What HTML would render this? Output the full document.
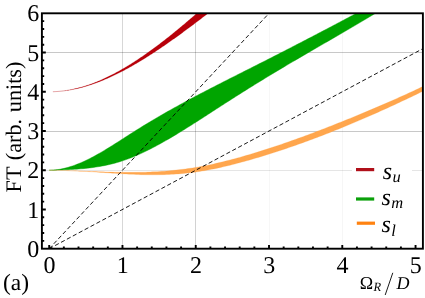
<!DOCTYPE html>
<html><head><meta charset="utf-8"><title>plot</title>
<style>html,body{margin:0;padding:0;background:#fff;}body{width:425px;height:298px;overflow:hidden;font-family:"Liberation Serif",serif;}svg{display:block;will-change:transform;}svg text{text-rendering:geometricPrecision;}svg text{font-family:"Liberation Serif",serif;fill:#000;}</style>
</head><body>
<svg width="425" height="298" viewBox="0 0 425 298">
<rect x="0" y="0" width="425" height="298" fill="#ffffff"/>
<defs><clipPath id="c"><rect x="41.90" y="13.30" width="381.00" height="235.40"/></clipPath></defs>
<line x1="122.50" y1="13.30" x2="122.50" y2="248.70" stroke="#000" stroke-opacity="0.155" stroke-width="1"/>
<line x1="195.50" y1="13.30" x2="195.50" y2="248.70" stroke="#000" stroke-opacity="0.175" stroke-width="1"/>
<line x1="269.50" y1="13.30" x2="269.50" y2="248.70" stroke="#000" stroke-opacity="0.03" stroke-width="1"/>
<line x1="342.50" y1="13.30" x2="342.50" y2="248.70" stroke="#000" stroke-opacity="0.035" stroke-width="1"/>
<line x1="41.90" y1="170.50" x2="422.90" y2="170.50" stroke="#000" stroke-opacity="0.10" stroke-width="1"/>
<line x1="41.90" y1="131.50" x2="422.90" y2="131.50" stroke="#000" stroke-opacity="0.215" stroke-width="1"/>
<line x1="41.90" y1="52.50" x2="422.90" y2="52.50" stroke="#000" stroke-opacity="0.215" stroke-width="1"/>
<g clip-path="url(#c)">
<path d="M52.86,91.72 L53.90,91.68 L54.94,91.63 L55.97,91.57 L57.01,91.50 L58.05,91.42 L59.08,91.33 L60.12,91.24 L61.16,91.13 L62.20,91.01 L63.23,90.88 L64.27,90.75 L65.31,90.60 L66.34,90.45 L67.38,90.28 L68.42,90.10 L69.45,89.92 L70.49,89.73 L71.53,89.52 L72.56,89.31 L73.60,89.09 L74.64,88.86 L75.67,88.62 L76.71,88.37 L77.75,88.11 L78.78,87.84 L79.82,87.56 L80.86,87.28 L81.90,86.98 L82.93,86.68 L83.97,86.37 L85.01,86.04 L86.04,85.71 L87.08,85.37 L88.12,85.03 L89.15,84.67 L90.19,84.31 L91.23,83.93 L92.26,83.55 L93.30,83.16 L94.34,82.76 L95.37,82.36 L96.41,81.94 L97.45,81.52 L98.48,81.09 L99.52,80.65 L100.56,80.20 L101.59,79.75 L102.63,79.29 L103.67,78.82 L104.71,78.34 L105.74,77.86 L106.78,77.36 L107.82,76.86 L108.85,76.36 L109.89,75.84 L110.93,75.32 L111.96,74.79 L113.00,74.25 L114.04,73.71 L115.07,73.16 L116.11,72.60 L117.15,72.04 L118.18,71.47 L119.22,70.89 L120.26,70.31 L121.29,69.72 L122.33,69.12 L123.37,68.52 L124.41,67.91 L125.44,67.30 L126.48,66.67 L127.52,66.05 L128.55,65.41 L129.59,64.77 L130.63,64.13 L131.66,63.47 L132.70,62.82 L133.74,62.15 L134.77,61.48 L135.81,60.81 L136.85,60.13 L137.88,59.44 L138.92,58.75 L139.96,58.06 L140.99,57.35 L142.03,56.65 L143.07,55.94 L144.11,55.22 L145.14,54.50 L146.18,53.77 L147.22,53.04 L148.25,52.30 L149.29,51.56 L150.33,50.81 L151.36,50.06 L152.40,49.31 L153.44,48.54 L154.47,47.78 L155.51,47.01 L156.55,46.24 L157.58,45.46 L158.62,44.68 L159.66,43.89 L160.69,43.10 L161.73,42.31 L162.77,41.51 L163.81,40.70 L164.84,39.90 L165.88,39.09 L166.92,38.27 L167.95,37.45 L168.99,36.63 L170.03,35.80 L171.06,34.97 L172.10,34.14 L173.14,33.30 L174.17,32.46 L175.21,31.62 L176.25,30.77 L177.28,29.92 L178.32,29.07 L179.36,28.21 L180.39,27.35 L181.43,26.49 L182.47,25.62 L183.51,24.75 L184.54,23.88 L185.58,23.00 L186.62,22.12 L187.65,21.24 L188.69,20.35 L189.73,19.47 L190.76,18.58 L191.80,17.68 L192.84,16.79 L193.87,15.89 L194.91,14.98 L195.95,14.08 L196.98,13.17 L198.02,12.26 L199.06,11.35 L200.09,10.44 L201.13,9.52 L202.17,8.60 L203.21,7.68 L204.24,6.75 L205.28,5.83 L206.32,4.90 L207.35,3.97 L208.39,3.03 L209.43,2.10 L210.46,1.16 L211.50,0.22 L212.54,-0.72 L213.57,-1.67 L214.61,-2.61 L215.65,-3.56 L216.68,-4.51 L217.72,-5.47 L217.72,5.74 L216.68,6.56 L215.65,7.37 L214.61,8.18 L213.57,8.99 L212.54,9.80 L211.50,10.61 L210.46,11.42 L209.43,12.23 L208.39,13.03 L207.35,13.84 L206.32,14.64 L205.28,15.44 L204.24,16.24 L203.21,17.04 L202.17,17.83 L201.13,18.63 L200.09,19.42 L199.06,20.21 L198.02,21.00 L196.98,21.79 L195.95,22.58 L194.91,23.36 L193.87,24.15 L192.84,24.93 L191.80,25.71 L190.76,26.48 L189.73,27.26 L188.69,28.03 L187.65,28.80 L186.62,29.57 L185.58,30.34 L184.54,31.11 L183.51,31.87 L182.47,32.63 L181.43,33.39 L180.39,34.14 L179.36,34.90 L178.32,35.65 L177.28,36.40 L176.25,37.14 L175.21,37.89 L174.17,38.63 L173.14,39.37 L172.10,40.10 L171.06,40.84 L170.03,41.57 L168.99,42.29 L167.95,43.02 L166.92,43.74 L165.88,44.46 L164.84,45.17 L163.81,45.89 L162.77,46.60 L161.73,47.30 L160.69,48.01 L159.66,48.71 L158.62,49.40 L157.58,50.09 L156.55,50.78 L155.51,51.47 L154.47,52.15 L153.44,52.83 L152.40,53.51 L151.36,54.18 L150.33,54.85 L149.29,55.51 L148.25,56.17 L147.22,56.83 L146.18,57.48 L145.14,58.13 L144.11,58.77 L143.07,59.41 L142.03,60.05 L140.99,60.68 L139.96,61.31 L138.92,61.93 L137.88,62.55 L136.85,63.16 L135.81,63.77 L134.77,64.37 L133.74,64.97 L132.70,65.57 L131.66,66.16 L130.63,66.74 L129.59,67.32 L128.55,67.90 L127.52,68.47 L126.48,69.03 L125.44,69.59 L124.41,70.14 L123.37,70.69 L122.33,71.23 L121.29,71.77 L120.26,72.30 L119.22,72.83 L118.18,73.35 L117.15,73.86 L116.11,74.37 L115.07,74.87 L114.04,75.37 L113.00,75.86 L111.96,76.35 L110.93,76.82 L109.89,77.29 L108.85,77.76 L107.82,78.22 L106.78,78.67 L105.74,79.12 L104.71,79.56 L103.67,79.99 L102.63,80.41 L101.59,80.83 L100.56,81.24 L99.52,81.65 L98.48,82.05 L97.45,82.44 L96.41,82.82 L95.37,83.20 L94.34,83.57 L93.30,83.93 L92.26,84.28 L91.23,84.63 L90.19,84.97 L89.15,85.30 L88.12,85.62 L87.08,85.94 L86.04,86.25 L85.01,86.55 L83.97,86.84 L82.93,87.13 L81.90,87.40 L80.86,87.67 L79.82,87.93 L78.78,88.19 L77.75,88.43 L76.71,88.67 L75.67,88.89 L74.64,89.11 L73.60,89.32 L72.56,89.53 L71.53,89.72 L70.49,89.91 L69.45,90.08 L68.42,90.25 L67.38,90.41 L66.34,90.56 L65.31,90.70 L64.27,90.84 L63.23,90.96 L62.20,91.08 L61.16,91.19 L60.12,91.28 L59.08,91.37 L58.05,91.45 L57.01,91.53 L55.97,91.59 L54.94,91.64 L53.90,91.69 L52.86,91.72 Z" fill="#b8000a" stroke="#b8000a" stroke-width="0.2" stroke-linejoin="round"/>
<path d="M49.20,170.24 L51.32,170.18 L53.44,170.05 L55.56,169.85 L57.68,169.58 L59.80,169.24 L61.92,168.84 L64.04,168.37 L66.16,167.84 L68.28,167.26 L70.40,166.62 L72.52,165.92 L74.64,165.17 L76.76,164.37 L78.88,163.53 L81.00,162.63 L83.12,161.70 L85.24,160.72 L87.36,159.70 L89.48,158.65 L91.60,157.56 L93.71,156.44 L95.83,155.28 L97.95,154.10 L100.07,152.89 L102.19,151.65 L104.31,150.40 L106.43,149.12 L108.55,147.83 L110.67,146.51 L112.79,145.19 L114.91,143.85 L117.03,142.51 L119.15,141.15 L121.27,139.79 L123.39,138.43 L125.51,137.07 L127.63,135.70 L129.75,134.34 L131.87,132.99 L133.99,131.64 L136.11,130.30 L138.23,128.97 L140.35,127.66 L142.47,126.35 L144.59,125.05 L146.71,123.76 L148.83,122.49 L150.95,121.22 L153.07,119.96 L155.19,118.71 L157.31,117.46 L159.43,116.23 L161.55,115.00 L163.67,113.78 L165.79,112.57 L167.91,111.37 L170.03,110.18 L172.15,108.99 L174.27,107.81 L176.39,106.63 L178.51,105.46 L180.63,104.30 L182.74,103.15 L184.86,102.00 L186.98,100.85 L189.10,99.71 L191.22,98.58 L193.34,97.45 L195.46,96.33 L197.58,95.21 L199.70,94.10 L201.82,92.99 L203.94,91.88 L206.06,90.78 L208.18,89.68 L210.30,88.59 L212.42,87.49 L214.54,86.40 L216.66,85.32 L218.78,84.24 L220.90,83.15 L223.02,82.08 L225.14,81.00 L227.26,79.92 L229.38,78.85 L231.50,77.78 L233.62,76.71 L235.74,75.64 L237.86,74.57 L239.98,73.50 L242.10,72.43 L244.22,71.36 L246.34,70.30 L248.46,69.23 L250.58,68.16 L252.70,67.09 L254.82,66.02 L256.94,64.95 L259.06,63.87 L261.18,62.80 L263.30,61.72 L265.42,60.65 L267.54,59.57 L269.66,58.49 L271.77,57.41 L273.89,56.33 L276.01,55.25 L278.13,54.16 L280.25,53.08 L282.37,51.99 L284.49,50.90 L286.61,49.82 L288.73,48.73 L290.85,47.63 L292.97,46.54 L295.09,45.45 L297.21,44.35 L299.33,43.26 L301.45,42.16 L303.57,41.06 L305.69,39.96 L307.81,38.86 L309.93,37.76 L312.05,36.65 L314.17,35.55 L316.29,34.44 L318.41,33.33 L320.53,32.22 L322.65,31.11 L324.77,30.00 L326.89,28.89 L329.01,27.77 L331.13,26.66 L333.25,25.54 L335.37,24.42 L337.49,23.30 L339.61,22.18 L341.73,21.05 L343.85,19.93 L345.97,18.80 L348.09,17.67 L350.21,16.55 L352.33,15.41 L354.45,14.28 L356.57,13.15 L358.69,12.01 L360.80,10.88 L362.92,9.74 L365.04,8.60 L367.16,7.46 L369.28,6.32 L371.40,5.17 L373.52,4.03 L375.64,2.88 L377.76,1.73 L379.88,0.58 L382.00,-0.57 L384.12,-1.72 L386.24,-2.88 L386.24,6.73 L384.12,8.04 L382.00,9.34 L379.88,10.63 L377.76,11.92 L375.64,13.21 L373.52,14.49 L371.40,15.76 L369.28,17.04 L367.16,18.30 L365.04,19.57 L362.92,20.83 L360.80,22.09 L358.69,23.34 L356.57,24.59 L354.45,25.84 L352.33,27.09 L350.21,28.33 L348.09,29.57 L345.97,30.81 L343.85,32.05 L341.73,33.28 L339.61,34.52 L337.49,35.75 L335.37,36.98 L333.25,38.21 L331.13,39.44 L329.01,40.67 L326.89,41.89 L324.77,43.12 L322.65,44.35 L320.53,45.58 L318.41,46.81 L316.29,48.03 L314.17,49.26 L312.05,50.49 L309.93,51.72 L307.81,52.95 L305.69,54.19 L303.57,55.42 L301.45,56.66 L299.33,57.90 L297.21,59.14 L295.09,60.38 L292.97,61.62 L290.85,62.87 L288.73,64.12 L286.61,65.37 L284.49,66.63 L282.37,67.89 L280.25,69.15 L278.13,70.42 L276.01,71.69 L273.89,72.97 L271.77,74.24 L269.66,75.53 L267.54,76.81 L265.42,78.10 L263.30,79.39 L261.18,80.69 L259.06,81.99 L256.94,83.30 L254.82,84.61 L252.70,85.92 L250.58,87.24 L248.46,88.56 L246.34,89.88 L244.22,91.21 L242.10,92.54 L239.98,93.88 L237.86,95.22 L235.74,96.57 L233.62,97.92 L231.50,99.27 L229.38,100.63 L227.26,101.99 L225.14,103.36 L223.02,104.72 L220.90,106.09 L218.78,107.47 L216.66,108.84 L214.54,110.22 L212.42,111.59 L210.30,112.97 L208.18,114.34 L206.06,115.71 L203.94,117.08 L201.82,118.44 L199.70,119.81 L197.58,121.16 L195.46,122.52 L193.34,123.86 L191.22,125.21 L189.10,126.54 L186.98,127.87 L184.86,129.19 L182.74,130.50 L180.63,131.80 L178.51,133.10 L176.39,134.38 L174.27,135.65 L172.15,136.91 L170.03,138.16 L167.91,139.40 L165.79,140.62 L163.67,141.82 L161.55,143.02 L159.43,144.19 L157.31,145.35 L155.19,146.49 L153.07,147.61 L150.95,148.70 L148.83,149.78 L146.71,150.83 L144.59,151.86 L142.47,152.86 L140.35,153.84 L138.23,154.79 L136.11,155.71 L133.99,156.60 L131.87,157.47 L129.75,158.30 L127.63,159.09 L125.51,159.86 L123.39,160.59 L121.27,161.28 L119.15,161.94 L117.03,162.56 L114.91,163.15 L112.79,163.71 L110.67,164.23 L108.55,164.73 L106.43,165.19 L104.31,165.63 L102.19,166.04 L100.07,166.42 L97.95,166.78 L95.83,167.11 L93.71,167.42 L91.60,167.71 L89.48,167.97 L87.36,168.22 L85.24,168.44 L83.12,168.65 L81.00,168.84 L78.88,169.01 L76.76,169.17 L74.64,169.32 L72.52,169.45 L70.40,169.57 L68.28,169.68 L66.16,169.78 L64.04,169.87 L61.92,169.95 L59.80,170.02 L57.68,170.08 L55.56,170.14 L53.44,170.18 L51.32,170.22 L49.20,170.24 Z" fill="#00a500" stroke="#00a500" stroke-width="0.4" stroke-linejoin="round"/>
<path d="M49.20,170.24 L51.55,170.26 L53.90,170.29 L56.25,170.33 L58.60,170.37 L60.95,170.42 L63.30,170.48 L65.65,170.54 L68.00,170.61 L70.35,170.68 L72.70,170.75 L75.05,170.83 L77.40,170.91 L79.75,171.00 L82.10,171.08 L84.45,171.17 L86.80,171.26 L89.15,171.35 L91.50,171.43 L93.85,171.52 L96.20,171.61 L98.55,171.69 L100.90,171.77 L103.25,171.85 L105.60,171.92 L107.95,172.00 L110.30,172.06 L112.65,172.12 L115.00,172.18 L117.35,172.23 L119.71,172.27 L122.06,172.30 L124.41,172.33 L126.76,172.35 L129.11,172.36 L131.46,172.36 L133.81,172.35 L136.16,172.33 L138.51,172.30 L140.86,172.26 L143.21,172.21 L145.56,172.14 L147.91,172.07 L150.26,171.98 L152.61,171.87 L154.96,171.76 L157.31,171.63 L159.66,171.48 L162.01,171.33 L164.36,171.16 L166.71,170.97 L169.06,170.77 L171.41,170.55 L173.76,170.32 L176.11,170.08 L178.46,169.82 L180.81,169.54 L183.16,169.25 L185.51,168.94 L187.86,168.61 L190.21,168.27 L192.56,167.91 L194.91,167.53 L197.26,167.13 L199.61,166.72 L201.96,166.29 L204.31,165.84 L206.66,165.38 L209.01,164.90 L211.36,164.40 L213.71,163.89 L216.06,163.36 L218.41,162.83 L220.76,162.27 L223.11,161.71 L225.46,161.12 L227.81,160.53 L230.16,159.93 L232.51,159.31 L234.86,158.68 L237.21,158.04 L239.56,157.39 L241.91,156.73 L244.26,156.05 L246.61,155.37 L248.96,154.68 L251.31,153.98 L253.66,153.27 L256.01,152.56 L258.37,151.83 L260.72,151.10 L263.07,150.36 L265.42,149.61 L267.77,148.85 L270.12,148.08 L272.47,147.31 L274.82,146.53 L277.17,145.74 L279.52,144.95 L281.87,144.15 L284.22,143.34 L286.57,142.52 L288.92,141.70 L291.27,140.87 L293.62,140.03 L295.97,139.19 L298.32,138.34 L300.67,137.49 L303.02,136.63 L305.37,135.76 L307.72,134.89 L310.07,134.01 L312.42,133.13 L314.77,132.24 L317.12,131.35 L319.47,130.45 L321.82,129.55 L324.17,128.64 L326.52,127.73 L328.87,126.81 L331.22,125.89 L333.57,124.97 L335.92,124.04 L338.27,123.10 L340.62,122.17 L342.97,121.22 L345.32,120.28 L347.67,119.33 L350.02,118.38 L352.37,117.42 L354.72,116.46 L357.07,115.50 L359.42,114.53 L361.77,113.55 L364.12,112.58 L366.47,111.59 L368.82,110.61 L371.17,109.61 L373.52,108.62 L375.87,107.62 L378.22,106.61 L380.57,105.60 L382.92,104.59 L385.27,103.57 L387.62,102.54 L389.97,101.51 L392.32,100.48 L394.67,99.43 L397.03,98.39 L399.38,97.34 L401.73,96.28 L404.08,95.22 L406.43,94.15 L408.78,93.08 L411.13,92.00 L413.48,90.91 L415.83,89.82 L418.18,88.72 L420.53,87.62 L422.88,86.51 L422.88,91.22 L420.53,92.36 L418.18,93.50 L415.83,94.64 L413.48,95.77 L411.13,96.90 L408.78,98.02 L406.43,99.14 L404.08,100.25 L401.73,101.36 L399.38,102.46 L397.03,103.56 L394.67,104.65 L392.32,105.73 L389.97,106.82 L387.62,107.89 L385.27,108.96 L382.92,110.03 L380.57,111.09 L378.22,112.14 L375.87,113.19 L373.52,114.23 L371.17,115.27 L368.82,116.30 L366.47,117.32 L364.12,118.34 L361.77,119.36 L359.42,120.36 L357.07,121.36 L354.72,122.36 L352.37,123.35 L350.02,124.33 L347.67,125.31 L345.32,126.28 L342.97,127.24 L340.62,128.20 L338.27,129.15 L335.92,130.10 L333.57,131.04 L331.22,131.97 L328.87,132.90 L326.52,133.82 L324.17,134.73 L321.82,135.63 L319.47,136.53 L317.12,137.43 L314.77,138.31 L312.42,139.19 L310.07,140.06 L307.72,140.93 L305.37,141.78 L303.02,142.63 L300.67,143.48 L298.32,144.31 L295.97,145.14 L293.62,145.96 L291.27,146.78 L288.92,147.59 L286.57,148.39 L284.22,149.18 L281.87,149.96 L279.52,150.74 L277.17,151.51 L274.82,152.27 L272.47,153.02 L270.12,153.77 L267.77,154.51 L265.42,155.24 L263.07,155.96 L260.72,156.68 L258.37,157.38 L256.01,158.08 L253.66,158.77 L251.31,159.46 L248.96,160.13 L246.61,160.80 L244.26,161.45 L241.91,162.10 L239.56,162.74 L237.21,163.36 L234.86,163.98 L232.51,164.58 L230.16,165.17 L227.81,165.75 L225.46,166.31 L223.11,166.86 L220.76,167.40 L218.41,167.92 L216.06,168.42 L213.71,168.91 L211.36,169.37 L209.01,169.83 L206.66,170.26 L204.31,170.67 L201.96,171.07 L199.61,171.44 L197.26,171.80 L194.91,172.13 L192.56,172.44 L190.21,172.73 L187.86,173.00 L185.51,173.25 L183.16,173.48 L180.81,173.69 L178.46,173.88 L176.11,174.05 L173.76,174.20 L171.41,174.34 L169.06,174.45 L166.71,174.55 L164.36,174.64 L162.01,174.70 L159.66,174.75 L157.31,174.79 L154.96,174.81 L152.61,174.81 L150.26,174.81 L147.91,174.78 L145.56,174.75 L143.21,174.70 L140.86,174.63 L138.51,174.56 L136.16,174.47 L133.81,174.37 L131.46,174.27 L129.11,174.15 L126.76,174.03 L124.41,173.89 L122.06,173.76 L119.71,173.61 L117.35,173.46 L115.00,173.31 L112.65,173.16 L110.30,173.00 L107.95,172.85 L105.60,172.69 L103.25,172.53 L100.90,172.38 L98.55,172.23 L96.20,172.08 L93.85,171.93 L91.50,171.79 L89.15,171.65 L86.80,171.52 L84.45,171.39 L82.10,171.26 L79.75,171.14 L77.40,171.03 L75.05,170.92 L72.70,170.82 L70.35,170.73 L68.00,170.64 L65.65,170.56 L63.30,170.49 L60.95,170.42 L58.60,170.37 L56.25,170.33 L53.90,170.29 L51.55,170.26 L49.20,170.24 Z" fill="#ffa64d" stroke="#ffa64d" stroke-width="0.25" stroke-linejoin="round"/>
<line x1="49.20" y1="248.70" x2="276.34" y2="5.47" stroke="#000" stroke-width="0.9" stroke-dasharray="4.2 2.5"/>
<line x1="49.20" y1="248.70" x2="422.88" y2="48.63" stroke="#000" stroke-width="0.9" stroke-dasharray="4.2 2.5"/>
</g>
<rect x="352" y="158" width="60" height="84" fill="#ffffff"/>
<path d="M49.20,248.70 V245.10 M63.85,248.70 V246.50 M78.51,248.70 V246.50 M93.16,248.70 V246.50 M107.82,248.70 V246.50 M122.47,248.70 V245.10 M137.12,248.70 V246.50 M151.78,248.70 V246.50 M166.43,248.70 V246.50 M181.09,248.70 V246.50 M195.74,248.70 V245.10 M210.39,248.70 V246.50 M225.05,248.70 V246.50 M239.70,248.70 V246.50 M254.36,248.70 V246.50 M269.01,248.70 V245.10 M283.66,248.70 V246.50 M298.32,248.70 V246.50 M312.97,248.70 V246.50 M327.63,248.70 V246.50 M342.28,248.70 V245.10 M356.93,248.70 V246.50 M371.59,248.70 V246.50 M386.24,248.70 V246.50 M400.90,248.70 V246.50 M415.55,248.70 V245.10 M41.90,240.85 H44.20 M41.90,233.01 H44.20 M41.90,225.16 H44.20 M41.90,217.32 H44.20 M41.90,209.47 H45.80 M41.90,201.62 H44.20 M41.90,193.78 H44.20 M41.90,185.93 H44.20 M41.90,178.09 H44.20 M41.90,170.24 H45.80 M41.90,162.39 H44.20 M41.90,154.55 H44.20 M41.90,146.70 H44.20 M41.90,138.86 H44.20 M41.90,131.01 H45.80 M41.90,123.16 H44.20 M41.90,115.32 H44.20 M41.90,107.47 H44.20 M41.90,99.63 H44.20 M41.90,91.78 H45.80 M41.90,83.93 H44.20 M41.90,76.09 H44.20 M41.90,68.24 H44.20 M41.90,60.40 H44.20 M41.90,52.55 H45.80 M41.90,44.70 H44.20 M41.90,36.86 H44.20 M41.90,29.01 H44.20 M41.90,21.17 H44.20" stroke="#000" stroke-width="1.9" fill="none"/>
<rect x="41.90" y="13.30" width="381.00" height="235.40" fill="none" stroke="#000" stroke-width="1.9"/>
<text x="39.3" y="256.80"  font-size="24" text-anchor="end">0</text>
<text x="39.3" y="217.57"  font-size="24" text-anchor="end">1</text>
<text x="39.3" y="178.34"  font-size="24" text-anchor="end">2</text>
<text x="39.3" y="139.11"  font-size="24" text-anchor="end">3</text>
<text x="39.3" y="99.88"  font-size="24" text-anchor="end">4</text>
<text x="39.3" y="60.65"  font-size="24" text-anchor="end">5</text>
<text x="39.3" y="21.42"  font-size="24" text-anchor="end">6</text>
<text x="49.40" y="272.7"  font-size="24" text-anchor="middle">0</text>
<text x="122.67" y="272.7"  font-size="24" text-anchor="middle">1</text>
<text x="195.94" y="272.7"  font-size="24" text-anchor="middle">2</text>
<text x="269.21" y="272.7"  font-size="24" text-anchor="middle">3</text>
<text x="342.48" y="272.7"  font-size="24" text-anchor="middle">4</text>
<text x="415.75" y="272.7"  font-size="24" text-anchor="middle">5</text>
<text transform="translate(20.8,192.4) rotate(-90)"  font-size="22.2" word-spacing="1.2">FT (arb. units)</text>
<text x="3.0" y="289.6"  font-size="23.5">(a)</text>
<text x="359.8" y="288.6"  font-size="18">Ω</text>
<text x="373.6" y="291.2"  font-size="12.5" font-style="italic">R</text>
<line x1="385.2" y1="295" x2="392.8" y2="272.8" stroke="#000" stroke-width="0.9"/>
<text x="396.6" y="288.6"  font-size="18" font-style="italic">D</text>
<line x1="356.00" y1="169.60" x2="374.20" y2="169.60" stroke="#b0101a" stroke-width="3.2"/>
<text x="382.80" y="179.00"  font-size="24" font-style="italic">s</text>
<text x="392.60" y="182.00"  font-size="16.5" font-style="italic">u</text>
<line x1="356.00" y1="199.00" x2="374.20" y2="199.00" stroke="#0aa00a" stroke-width="3.2"/>
<text x="381.40" y="205.00"  font-size="24" font-style="italic">s</text>
<text x="391.20" y="208.00"  font-size="16.5" font-style="italic">m</text>
<line x1="356.80" y1="223.20" x2="375.00" y2="223.20" stroke="#ff8210" stroke-width="3.2"/>
<text x="381.40" y="231.90"  font-size="24" font-style="italic">s</text>
<text x="391.20" y="236.40"  font-size="16.5" font-style="italic">l</text>
</svg>
</body></html>
